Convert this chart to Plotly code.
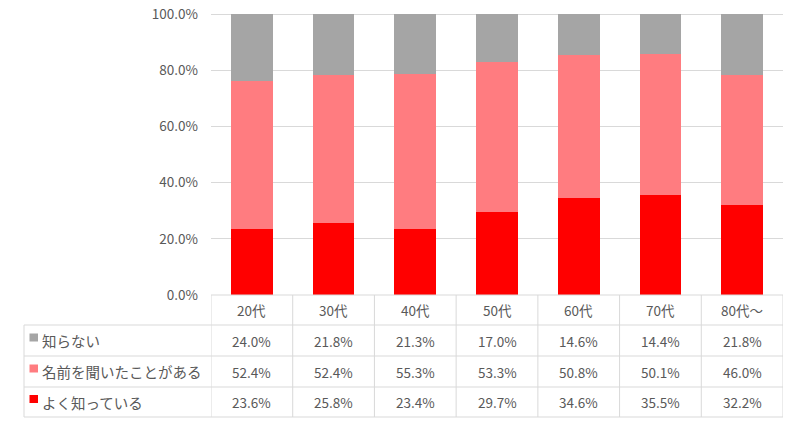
import plotly.graph_objects as go

categories = ["20代", "30代", "40代", "50代", "60代", "70代", "80代～"]
series_names = ["知らない", "名前を聞いたことがある", "よく知っている"]
shiranai = [24.0, 21.8, 21.3, 17.0, 14.6, 14.4, 21.8]
kiita = [52.4, 52.4, 55.3, 53.3, 50.8, 50.1, 46.0]
yoku = [23.6, 25.8, 23.4, 29.7, 34.6, 35.5, 32.2]
colors = ["#A5A5A5", "#FF7C80", "#FF0000"]
yticks = [0, 20, 40, 60, 80, 100]

W, H = 794, 424
OFF = 0  # body margin removed via post_script
FONT = "Noto Sans CJK JP"
TXT = "#595959"
GRID = "#D9D9D9"

def px(x):
    return (x - OFF) / W

def py(y):
    return 1 - (y - OFF) / H

x_left, x_right = 211, 783
y_top, y_axis = 14, 295
row_lines = [325, 356, 387, 417]
table_left = 24

fig = go.Figure()
idx = list(range(len(categories)))
for name, vals, col in [(series_names[2], yoku, colors[2]),
                        (series_names[1], kiita, colors[1]),
                        (series_names[0], shiranai, colors[0])]:
    fig.add_trace(go.Bar(x=idx, y=vals, name=name, marker=dict(color=col, line=dict(width=0)),
                         width=0.51, showlegend=False, hoverinfo="skip"))

fig.update_layout(
    barmode="stack",
    width=W, height=H,
    margin=dict(l=0, r=0, t=0, b=0),
    paper_bgcolor="white", plot_bgcolor="white",
    font=dict(family=FONT, color=TXT, size=13),
    xaxis=dict(domain=[px(x_left), px(x_right)], range=[-0.5, len(categories) - 0.5],
               showticklabels=False, showgrid=False, zeroline=False, fixedrange=True),
    yaxis=dict(domain=[py(y_axis), py(y_top)], range=[0, 100], tickvals=yticks,
               ticktext=[f"{v:.1f}%" for v in yticks], showgrid=True, gridcolor=GRID,
               gridwidth=1, zeroline=False, ticks="", ticklen=0, ticklabelstandoff=12,
               ticklabeloverflow="allow", fixedrange=True,
               tickfont=dict(size=13.5, color=TXT, family=FONT), automargin=False),
)

shapes = []
line = dict(color=GRID, width=1)
shapes.append(dict(type="line", xref="paper", yref="paper", x0=px(x_left), x1=px(x_right),
                   y0=py(y_top + 0.5), y1=py(y_top + 0.5), line=line, layer="below"))
shapes.append(dict(type="line", xref="paper", yref="paper", x0=px(x_left), x1=px(x_right),
                   y0=py(y_axis), y1=py(y_axis), line=line))
for ry in row_lines:
    shapes.append(dict(type="line", xref="paper", yref="paper", x0=px(table_left), x1=px(x_right),
                       y0=py(ry), y1=py(ry), line=line))
shapes.append(dict(type="line", xref="paper", yref="paper", x0=px(table_left), x1=px(table_left),
                   y0=py(row_lines[0]), y1=py(row_lines[-1]), line=line))
for i in range(len(categories) + 1):
    shapes.append(dict(type="line", xref="x", yref="paper", x0=i - 0.5, x1=i - 0.5,
                       y0=py(y_axis), y1=py(row_lines[-1]), line=line))

annotations = []
hdr_y = (y_axis + row_lines[0]) / 2
for i, c in enumerate(categories):
    annotations.append(dict(x=i, y=py(hdr_y), xref="x", yref="paper", text=c, showarrow=False,
                            xanchor="center", yanchor="middle",
                            font=dict(size=13.5, color=TXT, family=FONT)))
rows = [(series_names[0], shiranai, colors[0]),
        (series_names[1], kiita, colors[1]),
        (series_names[2], yoku, colors[2])]
for r, (name, vals, col) in enumerate(rows):
    cy = (row_lines[r] + row_lines[r + 1]) / 2
    shapes.append(dict(type="rect", xref="paper", yref="paper", x0=px(29.5), x1=px(38),
                       y0=py(cy - 7), y1=py(cy + 1), fillcolor=col, line=dict(width=0)))
    annotations.append(dict(x=px(40), y=py(cy), xref="paper", yref="paper", text=name,
                            showarrow=False, xanchor="left", yanchor="middle",
                            font=dict(size=14.5, color=TXT, family=FONT)))
    for i, v in enumerate(vals):
        annotations.append(dict(x=i, y=py(cy), xref="x", yref="paper", text=f"{v:.1f}%",
                                showarrow=False, xanchor="center", yanchor="middle",
                                font=dict(size=13.5, color=TXT, family=FONT)))

fig.update_layout(shapes=shapes, annotations=annotations)
fig.write_html("out.html", config={"displayModeBar": False, "staticPlot": True},
               post_script="document.body.style.margin='0';document.body.style.overflow='hidden';")
